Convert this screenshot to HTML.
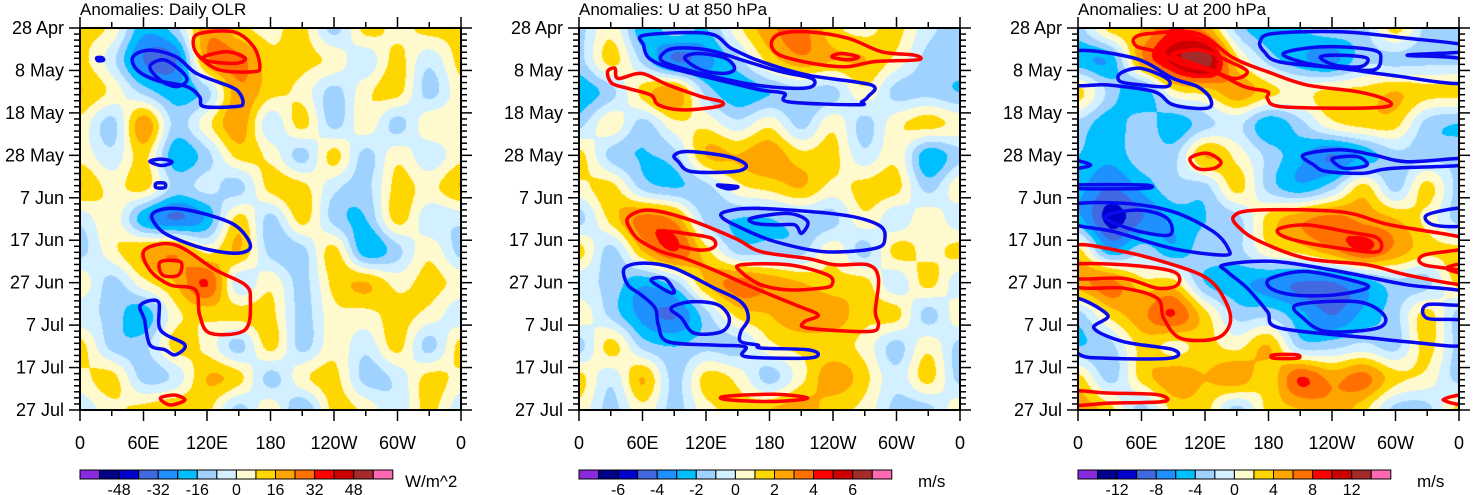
<!DOCTYPE html>
<html><head><meta charset="utf-8">
<style>
html,body{margin:0;padding:0;background:#fff;}
#wrap{position:relative;width:1473px;height:495px;overflow:hidden;font-family:"Liberation Sans",Arial,sans-serif;}
canvas{position:absolute;top:28px;}
svg{position:absolute;left:0;top:0;}
</style></head>
<body>
<div id="wrap">
<canvas id="c0" width="381" height="382" style="left:80px"></canvas>
<canvas id="c1" width="381" height="382" style="left:579px"></canvas>
<canvas id="c2" width="381" height="382" style="left:1078px"></canvas>
<svg id="svg" width="1473" height="495"></svg>
</div>
<script>
// ---- data ----
const dateLabels=["28 Apr","8 May","18 May","28 May","7 Jun","17 Jun","27 Jun","7 Jul","17 Jul","27 Jul"];
const lonLabels=["0","60E","120E","180","120W","60W","0"];
const titles=["Anomalies: Daily OLR","Anomalies: U at 850 hPa","Anomalies: U at 200 hPa"];
const units=["W/m^2","m/s","m/s"];
const cbLabels0=["-48","-32","-16","0","16","32","48"];
const cbLabels1=["-6","-4","-2","0","2","4","6"];
const cbLabels2=["-12","-8","-4","0","4","8","12"];
const levelColors=["#8a2be2","#00008b","#0000cd","#4169e1","#1e90ff","#00bfff","#a0d2ff","#d2f0ff","#fffacd","#ffd700","#ffa500","#ff7000","#ff0000","#cc0000","#a52a2a","#ff69b4"];
// grid rows every 7.5 days, columns every 30 deg lon (level units)
const olrGrid=[
[1,0.5,-2,-1,2,1,0.5,1,-1,1,0.5,1,1],
[1,-0.5,-3,-3,2,2.5,1,1,0.5,-0.5,1,-0.5,1],
[1.5,0.5,-1,-2,-1,2,1,0.5,-1,0.5,1,-1,0.5],
[0.5,-1,2,-1,0.5,2,-0.5,1,-1,0.5,-1,0.5,0.5],
[0.5,-0.5,1,-2,-1,1,0.5,-1,1,-1,0.5,-0.5,0.5],
[1.5,0.5,1,-1,-0.5,-1,1,1,-0.5,-1,1,0.5,1.5],
[-0.5,0.5,-2,-3,-2,1,-1,1,-1,-1.5,1,-0.5,-0.5],
[-1,0.5,1.5,2,0.5,1.5,-1,-1,1,-2,-1,0.5,-1],
[0.5,-1,0.5,1.5,3,-0.5,0.5,-1,1,1.5,0.5,1,0.5],
[-0.5,-1,-2,0.5,1,1,1,-1,0.5,0.5,1,0.5,-0.5],
[1,-1,-1,1,0.5,-1,1,-1,0.5,-0.5,1,-1,1],
[0.5,1,-1,-0.5,1.5,1,-1,0.5,1,-1,-0.5,1,0.5],
[-0.5,0.5,1,1.5,1,-1,0.5,-1.5,1,0.5,-0.5,1,-0.5]];
const u850Grid=[
[-1,0.5,-2,-1,-1.5,0.5,2,2.5,1,0.5,1,-0.5,-1],
[-1,1,-1,-3,-2.5,-1,1,2,1.5,1.5,0.5,-1,-1],
[-2,-1,1,2,-1,-2,-1.5,-1,-1,0.5,-1,-1,-1.5],
[-1,0.5,-1,0.5,0.5,-0.5,0.5,-1,0.5,-1,0.5,1,0.5],
[1,-1,-1.5,-1,1.5,1.5,2,1,1,-0.5,0.5,-2,-1],
[0.5,1,-1,-1.5,-1,0.5,1,1.5,0.5,1,1,-1,0.5],
[-1,1,2.5,2,-1,-1.5,-1.5,-1,-1,0.5,-0.5,0.5,-0.5],
[1,-1,1.5,3,1,-1,-1,-1,0.5,-1,1,0.5,1],
[-0.5,-1,-2,-1,1.5,2.5,2,1.5,1,1,-0.5,1,-0.5],
[0.5,-1,-2.5,-3,-1,1,1.5,2,2,1,1,-1,0.5],
[-1,1,-1,-1.5,-1,-1,0.5,1,1,0.5,-1,0.5,-1],
[1,-0.5,1.5,-1,1,0.5,-1,0.5,2,1,-0.5,1,-1],
[0.5,-1,0.5,-1,0.5,1,1.5,2,1,0.5,-1,-1,0.5]];
const u200Grid=[
[-1,1,1.5,3,2,-1,-2,-1.5,-1,-1,1,-1,-1],
[-2,-2,2,4,5,1,-1,-2,-2.5,-1,-1,-1,-1],
[1,-1,-2,0.5,1,2,1,0.5,1,1,1.5,1,1],
[-1,-2,-1,-2,-1,-0.5,-2,-1,0.5,1,1,-1,-1.5],
[-1.5,-2,-1,-1,1.5,0.5,-1,-2,-3,-2,-1,-1,-1],
[-2,-3,-2,-1,-1,1,-1,-2,-1,1,-1,1,-1],
[-2,-4,-3,-2,-1.5,-1,1,2,2.5,2,1.5,0.5,-1],
[1,-2,-1,-2,-1,-1,0.5,1,2,3,2,1,1],
[2,2.5,1,1,-1.5,-2,-2.5,-3,-3,-2,-1,-1,1],
[-1,1,2,3,1,-1,-1,-2,-3,-2,-1,1,-1],
[-1.5,-1,1,0.5,1,0.5,1.5,-1,-1,-0.5,-1,1,-1],
[1,-1,1,2,1.5,2,1,3,2,2.5,1,0.5,-1],
[2,1,-1,1,1,-1,1,1.5,2,1,-1,-1,1]];
// contours: [lon, day] pairs
const olrBlue=[
[[50,6.8],[66,5.2],[91,6.8],[110,10.7],[142,13.8],[151,15.4],[154,17.7],[148,18.5],[117,18.5],[113,16.2],[101,13.8],[72,12.3],[54,9.9]],
[[66,9.1],[79,7.5],[94.5,9.9],[101,12.3],[91,13.8],[76,12.3]],
[[16,7.0],[21,7.0],[22,7.6],[17,7.7]],
[[66,31.4],[78,30.9],[87,31.6],[77,32.4]],
[[72,36.6],[80,36.6],[80,37.6],[72,37.6]],
[[68,44],[85,42.5],[113,43.5],[146,46.4],[161,51.1],[151,53],[123,52.3],[94,50],[76,47.6]],
[[57,65.3],[74,64.5],[76,71.1],[99,74.6],[90,77],[80,75.8],[66,74.6],[61,68.8]]];
const olrRed=[
[[107,3.6],[113,1.3],[145,0.9],[164,4.4],[170,9.1],[164,10.3],[132,9.9],[113,6.8]],
[[117,6.8],[139,5.6],[156,7.1],[148,8.3],[123,7.9]],
[[61,52.3],[90,51.1],[128,57],[156,60.5],[161,64],[156,71.1],[123,71.9],[113,67.6],[109,61.7],[85,60.5],[66,57]],
[[76,55.1],[95,55.1],[93,58.2],[78,58.2]],
[[76,87.2],[90,86.5],[99,87.7],[85,88.8]]];
const u850Blue=[
[[62,1.7],[122,1.3],[144,4.8],[172,7.9],[216,11.1],[276,13.4],[273,16.2],[267,17.4],[264,18.1],[198,17.4],[194,15.4],[172,14.6],[138,12.6],[100,10.3],[78,8.7],[65,6.8],[61,4.0]],
[[78,6.4],[90,4.8],[122,5.2],[160,8],[191,10.3],[220,11.9],[220,13.8],[201,14.2],[166,13.4],[128,11.5],[97,9.5],[79,7.9]],
[[100,7.1],[113,6],[138,7.1],[147,9.5],[138,10.7],[116,9.9]],
[[90,30],[103,29.1],[141,30.3],[158,32.3],[147,33.8],[106,33.8],[94,31.5]],
[[131,37],[150,37.4],[141,37.9]],
[[138,43.3],[169,42.5],[248,44],[283,46.4],[289,49.5],[280,51.9],[232,52.7],[185,50.3],[154,47.2],[136,44.8]],
[[163,44.8],[198,43.7],[216,45.6],[210,48.4],[204,46.4],[185,46.4],[166,46]],
[[43,56.6],[62,55.4],[90,56.6],[128,61.3],[153,64.5],[160,68.4],[153,71.5],[153,73.9],[169,74.7],[172,75.4],[216,75.8],[226,77],[213,77.8],[157,77.4],[157,75.1],[128,74.7],[84,73.9],[75,70],[72,66],[59,62.9],[46,60.5]],
[[68,59.4],[81,59],[90,62.1],[84,62.1]],
[[87,66],[106,64.5],[131,65.2],[142,68.4],[135,71.5],[109,71.9],[97,68.4]]];
const u850Red=[
[[182,3.2],[191,1.3],[216,0.9],[254,2.4],[286,5.6],[317,6.4],[320,7.5],[280,7.9],[254,9.1],[229,8.7],[198,7.1],[185,5.6]],
[[239,6.8],[248,6],[264,6.8],[254,7.5]],
[[27,10.3],[34,9.5],[37,11.9],[59,10.7],[84,13.4],[116,16.2],[135,17.4],[131,18.5],[97,19.3],[75,18.1],[68,15.8],[46,14.2],[31,13]],
[[46,44.8],[65,42.9],[100,44.8],[147,49.5],[172,52.7],[216,54.3],[242,55.8],[273,55.8],[283,59],[280,66.8],[283,70],[273,71.5],[216,70.7],[213,69.2],[226,67.6],[204,65.2],[166,61.3],[131,57.4],[100,54.3],[78,52.7],[59,50.3],[50,48]],
[[81,48],[100,48.4],[125,49.5],[128,51.5],[113,52.3],[81,50.3]],
[[153,55.8],[198,55.8],[235,58.2],[239,60.5],[229,61.3],[198,61.7],[172,60.5],[153,57.4]],
[[138,86.8],[185,86.3],[216,87.2],[185,88],[141,87.6]]];
const u200Blue=[
[[172,3.2],[185,1.3],[248,0.9],[311,2.4],[366,4],[366,5.6],[311,6.4],[366,7.5],[366,13],[295,11.1],[248,9.5],[191,8],[176,5.6]],
[[194,6],[232,4.4],[279,5.2],[286,7.5],[279,9.9],[248,9.5],[216,8.3]],
[[229,6.8],[248,6.4],[273,7.1],[267,9.1],[242,8.7]],
[[-6,5.6],[53,7.1],[90,11.9],[113,13.8],[125,16.6],[122,18.9],[90,18.1],[72,15],[28,13.4],[-6,13]],
[[40,10.7],[59,9.5],[84,11.9],[84,13.8],[59,13.4],[40,12.6]],
[[213,29.9],[248,28.7],[279,29.9],[311,31.5],[366,30.7],[366,32.3],[295,33.1],[270,34.2],[235,33.8],[223,32.3]],
[[241,30.7],[264,30.3],[273,32.3],[254,33.1],[245,32.3]],
[[-6,31.1],[12,32.3],[-6,33.1]],
[[-6,37],[62,37],[62,37.8],[-6,37.8]],
[[-6,41.7],[43,41.3],[90,43.3],[128,48],[142,52],[138,53.5],[90,52],[34,48],[-6,46]],
[[28,44],[59,42.9],[84,44.8],[87,48.7],[59,48],[31,45.6]],
[[366,42.5],[330,44],[336,46.4],[366,46.4]],
[[138,55.8],[185,55],[248,57.4],[311,60.5],[366,62.1],[366,65.2],[330,65.2],[330,68.4],[366,69.2],[366,74.7],[311,73.9],[279,73.1],[191,70.7],[179,66.8],[160,61.3],[141,57.4]],
[[182,59],[216,57.4],[264,59.8],[273,61.3],[242,62.9],[204,62.9],[182,61.3]],
[[207,65.2],[264,64.5],[289,67.6],[283,70.7],[235,71.5],[213,68.4]],
[[-6,63.7],[28,67.6],[15,70.7],[43,73.9],[90,75.8],[87,77.8],[28,77.8],[2,77],[-6,73.1]]];
const u200Red=[
[[53,2.4],[68,1.3],[113,1.3],[147,7.1],[179,10.3],[216,13.4],[264,15],[292,17],[292,18.5],[254,18.9],[191,18.5],[179,16.6],[179,15],[157,13.8],[128,10.3],[100,8.7],[75,5.6],[56,4.4]],
[[91,6],[116,5.2],[144,8],[160,10.3],[147,11.9],[122,9.5],[94,7.1]],
[[106,30.7],[122,29.5],[135,31.5],[128,33.1],[113,33.1]],
[[147,44.4],[169,42.9],[248,43.3],[295,46.4],[366,49.5],[366,51.9],[327,53.5],[327,55.8],[366,57.4],[366,60.5],[311,58.2],[273,55.8],[216,54.3],[172,50.3],[153,47.2]],
[[191,47.2],[216,46.4],[254,48],[283,49.5],[283,52.7],[248,51.9],[210,50.3],[191,48.7]],
[[-6,51.5],[43,52.7],[90,55.8],[122,59],[138,63.7],[144,69.2],[131,73.1],[97,73.1],[81,68.4],[75,63.7],[43,61.3],[-6,60.5]],
[[-6,55.8],[43,55.8],[90,57.4],[94,60.5],[75,61.3],[43,59],[-6,59]],
[[366,55.5],[348,56.6],[366,57.8]],
[[185,77],[207,77],[207,77.8],[185,77.8]],
[[-6,85.6],[28,86],[75,86.4],[81,88],[28,88.4],[-6,88.8]],
[[366,86.4],[345,87.6],[366,88.8]]];
const grids=[olrGrid,u850Grid,u200Grid];
const blues=[olrBlue,u850Blue,u200Blue];
const reds=[olrRed,u850Red,u200Red];
const cbLabels=[cbLabels0,cbLabels1,cbLabels2];

// ---- layout ----
const lefts=[80,579,1078], TOP=28, W=381, H=382, GAIN=1.35;
function xs(p,lon){return lefts[p]+lon/360*W;}
function ys(day){return TOP+day/90*H;}
function hexRGB(h){return [parseInt(h.substr(1,2),16),parseInt(h.substr(3,2),16),parseInt(h.substr(5,2),16)];}
const rgbs=levelColors.map(hexRGB);

function cr(a,b,c,d,t){return b+0.5*t*(c-a+t*(2*a-5*b+4*c-d+t*(3*(b-c)+d-a)));}
function sample(g,gx,gy){
  const n=g.length-1,m=g[0].length-1;
  const i=Math.min(Math.floor(gy),n-1), j=Math.min(Math.floor(gx),m-1);
  const ty=gy-i, tx=gx-j;
  const row=r=>{r=Math.max(0,Math.min(n,r));const R=g[r];const c=k=>R[Math.max(0,Math.min(m,k))];
    return cr(c(j-1),c(j),c(j+1),c(j+2),tx);};
  return cr(row(i-1),row(i),row(i+1),row(i+2),ty);
}
for(let p=0;p<3;p++){
  const cv=document.getElementById('c'+p), ctx=cv.getContext('2d');
  const img=ctx.createImageData(W,H), g=grids[p];
  for(let y=0;y<H;y++){for(let x=0;x<W;x++){
    const lon=x/(W-1)*360, day=y/(H-1)*90;
    const v=sample(g,lon/30,day/7.5)*GAIN;
    let k=Math.floor(v)+8; if(k<0)k=0; if(k>15)k=15;
    const c=rgbs[k], o=(y*W+x)*4;
    img.data[o]=c[0];img.data[o+1]=c[1];img.data[o+2]=c[2];img.data[o+3]=255;
  }}
  ctx.putImageData(img,0,0);
}

const NS="http://www.w3.org/2000/svg", svg=document.getElementById('svg');
function mk(tag,attrs,parent){const e=document.createElementNS(NS,tag);for(const k in attrs)e.setAttribute(k,attrs[k]);(parent||svg).appendChild(e);return e;}
function closedPath(pts){
  const n=pts.length;let d="M"+pts[0][0].toFixed(1)+","+pts[0][1].toFixed(1);
  for(let i=0;i<n;i++){
    const p0=pts[(i-1+n)%n],p1=pts[i],p2=pts[(i+1)%n],p3=pts[(i+2)%n];
    const c1=[p1[0]+(p2[0]-p0[0])/6,p1[1]+(p2[1]-p0[1])/6], c2=[p2[0]-(p3[0]-p1[0])/6,p2[1]-(p3[1]-p1[1])/6];
    d+="C"+c1[0].toFixed(1)+","+c1[1].toFixed(1)+" "+c2[0].toFixed(1)+","+c2[1].toFixed(1)+" "+p2[0].toFixed(1)+","+p2[1].toFixed(1);
  }
  return d+"Z";
}
const defs=mk('defs',{});
for(let p=0;p<3;p++){
  const L=lefts[p];
  const cp=mk('clipPath',{id:'clip'+p},defs); mk('rect',{x:L,y:TOP,width:W,height:H},cp);
  const cg=mk('g',{'clip-path':'url(#clip'+p+')'});
  
  
  [[reds[p],'#ff0000','positive-contour'],[blues[p],'#0a0af0','negative-contour']].forEach(([set,col,nm])=>{
    set.forEach(c=>{
      const pts=c.map(q=>[xs(p,q[0]),ys(q[1])]);
      const el=mk('path',{d:closedPath(pts),fill:'none',stroke:col,'stroke-width':3.5,'stroke-linejoin':'round'},cg);
      
      
    });
  });
  const fr=mk('rect',{x:L,y:TOP,width:W,height:H,fill:'none',stroke:'#000','stroke-width':2});
  
  
  const tg=mk('g',{stroke:'#000','stroke-width':1.5});
  
  
  for(let k=0;k<=12;k++){
    const x=xs(p,k*30), len=(k%2==0)?11:6;
    mk('line',{x1:x,x2:x,y1:TOP,y2:TOP-len},tg);
    mk('line',{x1:x,x2:x,y1:TOP+H,y2:TOP+H+len},tg);
  }
  for(let k=0;k<=63;k++){
    const day=k*10/7; if(day>90.01)break;
    const y=ys(day), len=(k%7==0)?11:6;
    mk('line',{x1:L,x2:L-len,y1:y,y2:y},tg);
    mk('line',{x1:L+W,x2:L+W+len,y1:y,y2:y},tg);
  }
  dateLabels.forEach((t,i)=>{
    const e=mk('text',{x:L-16,y:ys(i*10)+6,'text-anchor':'end','font-size':18,fill:'#000'});e.textContent=t;
    
    
  });
  lonLabels.forEach((t,i)=>{
    const e=mk('text',{x:xs(p,i*60),y:449,'text-anchor':'middle','font-size':18,fill:'#000'});e.textContent=t;
    
    
  });
  const tt=mk('text',{x:L,y:15,'font-size':17,fill:'#000'});tt.textContent=titles[p];
  
  
  const bw=19.55, cg2=mk('g',{});
  
  
  levelColors.forEach((c,i)=>{
    const r=mk('rect',{x:L+i*bw,y:470,width:bw,height:9,fill:c,stroke:'#000','stroke-width':1},cg2);
    
    
  });
  cbLabels[p].forEach((t,i)=>{
    const e=mk('text',{x:L+(2+2*i)*bw,y:495,'text-anchor':'middle','font-size':16,fill:'#000'},cg2);e.textContent=t;
    
    
  });
  const u=mk('text',{x:p==0?L+325:L+339,y:487,'font-size':17,fill:'#000'});u.textContent=units[p];
  
  
}
</script>
</body></html>
